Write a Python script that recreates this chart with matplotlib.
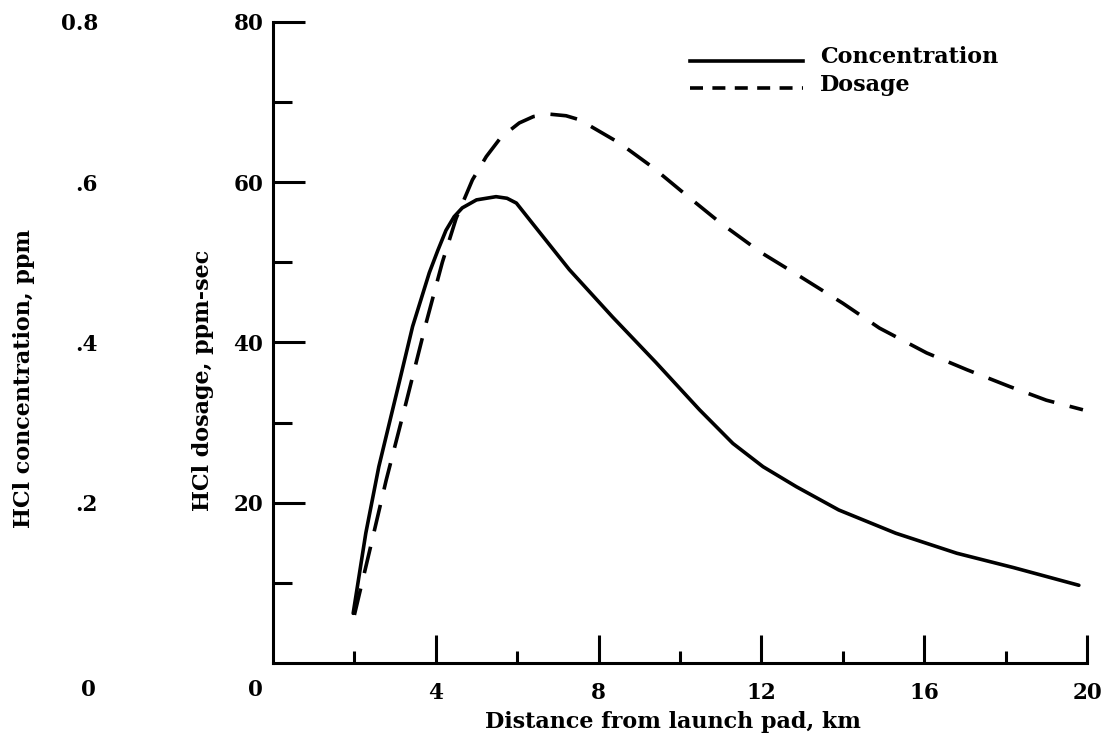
import matplotlib
matplotlib.use("Agg")
import matplotlib.pyplot as plt
from matplotlib.lines import Line2D
from matplotlib.legend_handler import HandlerLine2D

# ---- data ----
conc_km = [1.97, 2.28, 2.6, 3.1, 3.43, 3.84, 4.05, 4.25, 4.45, 4.65, 5.0, 5.48,
           5.75, 5.98, 6.37, 7.28, 8.34, 9.41, 10.48, 11.3, 12.04, 12.86, 13.9,
           15.3, 16.8, 18.2, 19.8]
conc_ppm = [0.062, 0.162, 0.245, 0.350, 0.420, 0.487, 0.515, 0.540, 0.557, 0.568,
            0.578, 0.582, 0.580, 0.574, 0.549, 0.491, 0.432, 0.375, 0.316, 0.274,
            0.245, 0.220, 0.191, 0.162, 0.137, 0.119, 0.097]

dose_km = [2.0, 2.36, 2.78, 3.27, 3.76, 4.16, 4.5, 4.9, 5.24, 5.6, 6.05, 6.4,
           6.79, 7.2, 7.53, 8.51, 9.32, 10.2, 11.0, 12.0, 12.9, 14.0, 14.9,
           16.06, 17.05, 18.1, 19.0, 19.9]
dose_ppmsec = [6.0, 13.7, 22.8, 32.5, 42.4, 50.0, 55.5, 60.3, 63.2, 65.6, 67.4,
               68.2, 68.5, 68.3, 67.8, 64.9, 61.9, 58.2, 54.9, 51.2, 48.4, 44.9,
               41.8, 38.7, 36.6, 34.5, 32.8, 31.6]

x_major = [4, 8, 12, 16, 20]
x_minor = [2, 6, 10, 14, 18]
dose_major = [20, 40, 60, 80]
dose_minor = [10, 30, 50, 70]
conc_ticks = [0.2, 0.4, 0.6, 0.8]
conc_ticklabels = [".2", ".4", ".6", "0.8"]

FONT = "DejaVu Serif"
FS = 16      # titles / legend
TFS = 15.5   # tick labels
LW = 2.6

plt.rcParams["font.family"] = FONT
plt.rcParams["font.weight"] = "bold"

W, H = 1104, 741
fig = plt.figure(figsize=(W / 100, H / 100), dpi=100)
left, right, bottom, top = 273, 1087, 663, 22
ax = fig.add_axes([left / W, 1 - bottom / H, (right - left) / W, (bottom - top) / H])

ax.set_xlim(0, 20)
ax.set_ylim(0, 80)
for s in ["top", "right"]:
    ax.spines[s].set_visible(False)
for s in ["left", "bottom"]:
    ax.spines[s].set_linewidth(2.2)

ax.set_xticks(x_major)
ax.set_xticks(x_minor, minor=True)
ax.set_yticks(dose_major)
ax.set_yticks(dose_minor, minor=True)
ax.tick_params(axis="x", which="major", direction="in", length=20, width=2.2,
               pad=14, labelsize=TFS)
ax.tick_params(axis="x", which="minor", direction="in", length=9, width=2.2)
ax.tick_params(axis="y", which="major", direction="in", length=23, width=2.2,
               pad=7, labelsize=TFS)
ax.tick_params(axis="y", which="minor", direction="in", length=14, width=2.2)
for lab in ax.get_xticklabels() + ax.get_yticklabels():
    lab.set_fontweight("bold")

ax.plot(dose_km, dose_ppmsec, color="black", lw=LW,
        linestyle=(0, (7.5, 4.4)), dash_capstyle="butt")

# concentration axis (same frame, scale 0-0.8 ppm)
ax2 = ax.twinx()
ax2.set_ylim(0, 0.8)
for s in ax2.spines.values():
    s.set_visible(False)
ax2.yaxis.set_ticks_position("left")
ax2.yaxis.set_label_position("left")
ax2.set_yticks(conc_ticks)
ax2.set_yticklabels(conc_ticklabels)
ax2.tick_params(axis="y", length=0, pad=126, labelsize=TFS)
for lab in ax2.get_yticklabels():
    lab.set_fontweight("bold")
ax2.plot(conc_km, conc_ppm, color="black", lw=LW, solid_capstyle="round",
         solid_joinstyle="round")

# zero labels sitting on the x tick-label row
fig.text(255 / W, 1 - 690 / H, "0", ha="center", va="center", fontsize=TFS,
         fontweight="bold")
fig.text(88 / W, 1 - 690 / H, "0", ha="center", va="center", fontsize=TFS,
         fontweight="bold")

# axis titles
fig.text(673 / W, 1 - 722 / H, "Distance from launch pad, km", ha="center",
         va="center", fontsize=FS, fontweight="bold")
fig.text(203 / W, 1 - 380 / H, "HCl dosage, ppm-sec", ha="center", va="center",
         rotation=90, fontsize=FS, fontweight="bold")
fig.text(24 / W, 1 - 379 / H, "HCl concentration, ppm", ha="center",
         va="center", rotation=90, fontsize=FS, fontweight="bold")


class BaselineHandler(HandlerLine2D):
    """Draw the legend key a little lower, near the text baseline."""
    def create_artists(self, legend, orig_handle, xdescent, ydescent, width,
                       height, fontsize, trans):
        artists = super().create_artists(legend, orig_handle, xdescent,
                                         ydescent, width, height, fontsize,
                                         trans)
        for a in artists:
            a.set_ydata([y - 4.0 for y in a.get_ydata()])
        return artists


handles = [Line2D([], [], color="black", lw=LW),
           Line2D([], [], color="black", lw=LW, linestyle=(0, (3.6, 2.6)),
                  dash_capstyle="butt")]
leg = ax2.legend(handles, ["Concentration", "Dosage"], loc="upper left",
                 bbox_to_anchor=(690 / W, 1 - 46 / H),
                 bbox_transform=fig.transFigure,
                 frameon=False, handlelength=5.1, handletextpad=0.75,
                 labelspacing=0.25, fontsize=FS, borderaxespad=0, borderpad=0,
                 handler_map={Line2D: BaselineHandler()})
for t in leg.get_texts():
    t.set_fontweight("bold")

fig.savefig("out.png", dpi=100)
